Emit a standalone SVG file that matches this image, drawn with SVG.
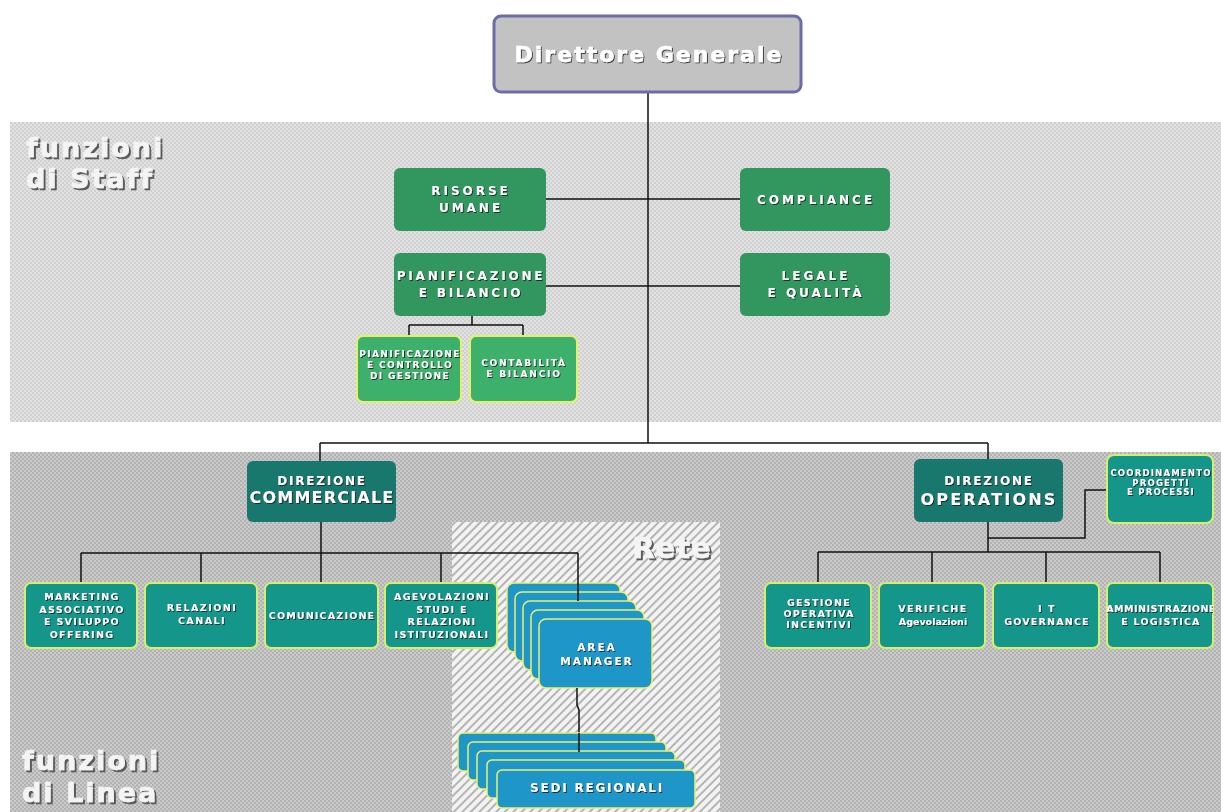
<svg xmlns="http://www.w3.org/2000/svg" width="1221" height="812" viewBox="0 0 1221 812">
<defs>
<pattern id="dotS" width="4" height="4" patternUnits="userSpaceOnUse"><rect width="4" height="4" fill="#e2e2e2"/><rect width="2" height="2" fill="#d0d0d0"/><rect x="2" y="2" width="2" height="2" fill="#d0d0d0"/></pattern>
<pattern id="dotL" width="4" height="4" patternUnits="userSpaceOnUse"><rect width="4" height="4" fill="#cbcbcb"/><rect width="2" height="2" fill="#b2b2b2"/><rect x="2" y="2" width="2" height="2" fill="#b2b2b2"/></pattern>
<pattern id="hatch" width="6" height="6" patternUnits="userSpaceOnUse" patternTransform="rotate(45)"><rect width="6" height="6" fill="#f3f3f3"/><rect width="2" height="6" fill="#b5b5b5"/></pattern>
<clipPath id="clipAmm"><rect x="1107" y="583" width="106" height="65" rx="6"/></clipPath>
<filter id="sh" x="-10%" y="-20%" width="120%" height="140%"><feDropShadow dx="1" dy="1" stdDeviation="0" flood-color="#222" flood-opacity="0.85"/></filter>
<filter id="shBig" x="-10%" y="-20%" width="120%" height="140%"><feDropShadow dx="2" dy="2" stdDeviation="0.4" flood-color="#5a5a5a" flood-opacity="1"/></filter>
<style>
.t{font-family:"DejaVu Sans","Liberation Sans",sans-serif;font-weight:bold;fill:#fff;text-anchor:middle;filter:url(#sh)}
.big{font-family:"DejaVu Sans","Liberation Sans",sans-serif;font-weight:bold;fill:#f4f4f4;stroke:#f4f4f4;stroke-width:0.7;filter:url(#shBig)}
.staff{fill:#32965f}
.sub{fill:#3db06c;stroke:#e4f06a;stroke-width:2}
.dir{fill:#19786e}
.row{fill:#14968a;stroke:#d6ee6a;stroke-width:2}
.blue{fill:#1e96c8;stroke:#eef06a;stroke-width:1.5}
.ln{fill:none;stroke:#111;stroke-width:1.5}
</style>
</defs>
<rect width="1221" height="812" fill="#fff"/>
<rect x="10" y="122" width="1211" height="300" fill="url(#dotS)"/>
<rect x="10" y="452" width="1211" height="360" fill="url(#dotL)"/>
<rect x="452" y="522" width="268" height="290" fill="url(#hatch)"/>
<text class="big" x="26" y="157" font-size="27" letter-spacing="2">funzioni</text>
<text class="big" x="26" y="188" font-size="27" letter-spacing="2">di Staff</text>
<text class="big" x="22" y="770" font-size="27" letter-spacing="2">funzioni</text>
<text class="big" x="22" y="802" font-size="27" letter-spacing="2">di Linea</text>
<text class="big" x="672" y="558" font-size="29" text-anchor="middle" letter-spacing="1">Rete</text>

<g id="connectors">
<path class="ln" d="M648 92 V443 M320 443 H988 M320 443 V461 M988 443 V459"/>
<path class="ln" d="M546 199 H740 M546 286 H740"/>
<path class="ln" d="M472 316 V325 M409 325 H523 M409 325 V336 M523 325 V336"/>
<path class="ln" d="M321 522 V553 M81 553 H578 M81 553 V583 M201 553 V583 M321 553 V583 M441 553 V583"/>
<path class="ln" d="M988 522 V552 M988 538 H1085 V490 H1107 M818 552 H1160 M818 552 V583 M932 552 V583 M1046 552 V583 M1160 552 V583"/>
</g>

<g id="direttore"><rect x="494" y="16" width="307" height="76" rx="7" fill="#c2c2c2" stroke="#6c6ca8" stroke-width="3"/><text class="t" x="649" y="62" font-size="22" letter-spacing="2" stroke="#fff" stroke-width="0.5">Direttore Generale</text></g>

<g id="risorse"><rect class="staff" x="394" y="168" width="152" height="63" rx="6"/><text class="t" x="471" y="195" font-size="12" letter-spacing="3">RISORSE</text><text class="t" x="471" y="212" font-size="12" letter-spacing="3">UMANE</text></g>
<g id="compliance"><rect class="staff" x="740" y="168" width="150" height="63" rx="6"/><text class="t" x="816" y="204" font-size="12" letter-spacing="3">COMPLIANCE</text></g>
<g id="pianificazione"><rect class="staff" x="394" y="253" width="152" height="63" rx="6"/><text class="t" x="471" y="280" font-size="12" letter-spacing="2.8">PIANIFICAZIONE</text><text class="t" x="471" y="297" font-size="12" letter-spacing="2.8">E BILANCIO</text></g>
<g id="legale"><rect class="staff" x="740" y="253" width="150" height="63" rx="6"/><text class="t" x="816" y="280" font-size="12" letter-spacing="3">LEGALE</text><text class="t" x="816" y="297" font-size="12" letter-spacing="3">E QUALITÀ</text></g>

<g id="controllo"><rect class="sub" x="357" y="336" width="104" height="66" rx="6"/><text class="t" x="410" y="357" font-size="9" letter-spacing="1.4">PIANIFICAZIONE</text><text class="t" x="410" y="368" font-size="9" letter-spacing="1.4">E CONTROLLO</text><text class="t" x="410" y="379" font-size="9" letter-spacing="1.4">DI GESTIONE</text></g>
<g id="contabilita"><rect class="sub" x="470" y="336" width="107" height="66" rx="6"/><text class="t" x="524" y="366" font-size="9" letter-spacing="1.8">CONTABILITÀ</text><text class="t" x="524" y="377" font-size="9" letter-spacing="1.8">E BILANCIO</text></g>

<g id="dir-commerciale"><rect class="dir" x="247" y="461" width="149" height="61" rx="6"/><text class="t" x="322" y="485" font-size="12" letter-spacing="1.8">DIREZIONE</text><text class="t" x="322" y="503" font-size="16" letter-spacing="1.2">COMMERCIALE</text></g>
<g id="dir-operations"><rect class="dir" x="914" y="459" width="149" height="63" rx="6"/><text class="t" x="989" y="485" font-size="12" letter-spacing="1.8">DIREZIONE</text><text class="t" x="989" y="505" font-size="16" letter-spacing="2.2">OPERATIONS</text></g>
<g id="coordinamento"><rect class="row" x="1107" y="455" width="106" height="68" rx="7"/><text class="t" x="1161" y="476" font-size="8.5" letter-spacing="1.2">COORDINAMENTO</text><text class="t" x="1161" y="485.5" font-size="8.5" letter-spacing="1.2">PROGETTI</text><text class="t" x="1161" y="495" font-size="8.5" letter-spacing="1.2">E PROCESSI</text></g>

<g id="marketing"><rect class="row" x="25" y="583" width="112" height="65" rx="6"/><text class="t" x="82" y="600" font-size="9.5" letter-spacing="1.3">MARKETING</text><text class="t" x="82" y="612.5" font-size="9.5" letter-spacing="1.3">ASSOCIATIVO</text><text class="t" x="82" y="625" font-size="9.5" letter-spacing="1.3">E SVILUPPO</text><text class="t" x="82" y="637.5" font-size="9.5" letter-spacing="1.3">OFFERING</text></g>
<g id="relazioni-canali"><rect class="row" x="145" y="583" width="112" height="65" rx="6"/><text class="t" x="202" y="611" font-size="9.5" letter-spacing="1.5">RELAZIONI</text><text class="t" x="202" y="624" font-size="9.5" letter-spacing="1.5">CANALI</text></g>
<g id="comunicazione"><rect class="row" x="265" y="583" width="113" height="65" rx="6"/><text class="t" x="322" y="619" font-size="9.5" letter-spacing="1.2">COMUNICAZIONE</text></g>
<g id="agevolazioni"><rect class="row" x="385" y="583" width="112" height="65" rx="6"/><text class="t" x="442" y="600" font-size="9.5" letter-spacing="1.3">AGEVOLAZIONI</text><text class="t" x="442" y="612.5" font-size="9.5" letter-spacing="1.3">STUDI E</text><text class="t" x="442" y="625" font-size="9.5" letter-spacing="1.3">RELAZIONI</text><text class="t" x="442" y="637.5" font-size="9.5" letter-spacing="1.3">ISTITUZIONALI</text></g>

<g id="area-manager">
<rect class="blue" x="507" y="583" width="113" height="69" rx="7"/>
<rect class="blue" x="515" y="592" width="113" height="69" rx="7"/>
<rect class="blue" x="523" y="601" width="113" height="69" rx="7"/>
<rect class="blue" x="531" y="610" width="113" height="69" rx="7"/>
<rect class="blue" x="539" y="619" width="113" height="69" rx="7"/>
<text class="t" x="597" y="651" font-size="10.5" letter-spacing="2">AREA</text><text class="t" x="597" y="665" font-size="10.5" letter-spacing="2">MANAGER</text>
</g>
<path class="ln" d="M578 553 V601"/>
<path class="ln" d="M577 688 V705 L579 710 V752"/>
<g id="sedi-regionali">
<rect class="blue" x="458" y="733" width="198" height="38" rx="5"/>
<rect class="blue" x="468" y="742" width="198" height="38" rx="5"/>
<rect class="blue" x="477" y="751" width="198" height="38" rx="5"/>
<rect class="blue" x="487" y="760" width="198" height="38" rx="5"/>
<rect class="blue" x="497" y="770" width="198" height="38" rx="5"/>
<text class="t" x="597" y="792" font-size="12" letter-spacing="1.8">SEDI REGIONALI</text>
</g>
<path class="ln" d="M579 733 V752"/>

<g id="gestione"><rect class="row" x="765" y="583" width="106" height="65" rx="6"/><text class="t" x="819" y="606" font-size="9.5" letter-spacing="1.3">GESTIONE</text><text class="t" x="819" y="617" font-size="9.5" letter-spacing="1.3">OPERATIVA</text><text class="t" x="819" y="628" font-size="9.5" letter-spacing="1.3">INCENTIVI</text></g>
<g id="verifiche"><rect class="row" x="879" y="583" width="106" height="65" rx="6"/><text class="t" x="933" y="612" font-size="9.5" letter-spacing="1.5">VERIFICHE</text><text class="t" x="933" y="625" font-size="9.5" letter-spacing="0">Agevolazioni</text></g>
<g id="it-governance"><rect class="row" x="993" y="583" width="106" height="65" rx="6"/><text class="t" x="1047" y="612" font-size="9.5" letter-spacing="1.5">I T</text><text class="t" x="1047" y="625" font-size="9.5" letter-spacing="1.2">GOVERNANCE</text></g>
<g id="amministrazione"><rect class="row" x="1107" y="583" width="106" height="65" rx="6"/><g clip-path="url(#clipAmm)"><text class="t" x="1161" y="612" font-size="9.5" letter-spacing="0.5">AMMINISTRAZIONE</text></g><text class="t" x="1161" y="625" font-size="9.5" letter-spacing="1.2">E LOGISTICA</text></g>
</svg>
